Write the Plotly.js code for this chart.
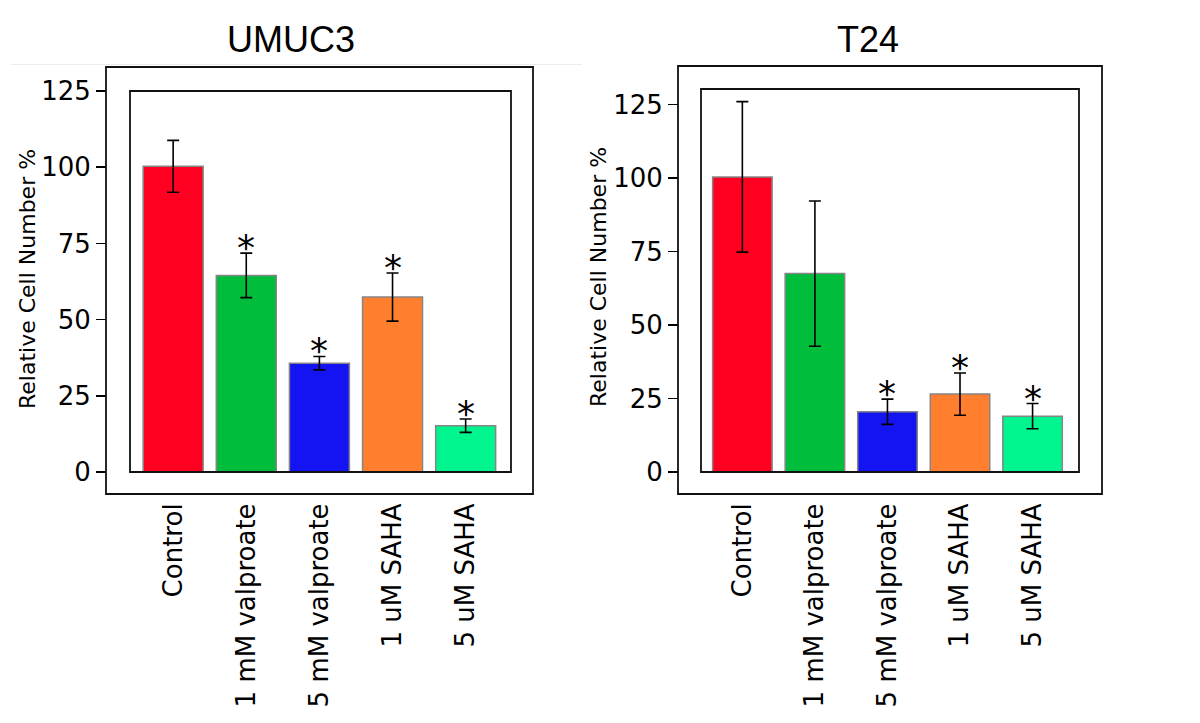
<!DOCTYPE html>
<html><head><meta charset="utf-8">
<script src="https://cdn.plot.ly/plotly-3.0.1.min.js"></script>
<style>html,body{margin:0;padding:0;background:#fff}#chart{width:1200px;height:723px}</style>
</head><body><div id="chart"></div>
<script>
// ---- data ----
const categories = ["Control", "1 mM valproate", "5 mM valproate", "1 uM SAHA", "5 uM SAHA"];
const barColors = ["#FF0020", "#00BD3C", "#1414F2", "#FF7F2E", "#00F58E"];
const umuc3Values = [100.3, 64.5, 35.7, 57.4, 15.2];
const umuc3Errors = [8.5, 7.3, 2.2, 7.9, 2.2];
const umuc3Sig = [false, true, true, true, true];
const t24Values = [100.4, 67.5, 20.5, 26.5, 19.0];
const t24Errors = [25.6, 24.7, 4.3, 7.2, 4.3];
const t24Sig = [false, false, true, true, true];
const panelTitles = ["UMUC3", "T24"];
const yTitle = "Relative Cell Number %";
const yTickVals = [0, 25, 50, 75, 100, 125];

// ---- geometry helpers ----
const W = 1200, H = 723;
const fx = x => x / W, fy = y => 1 - y / H;
const FONT = "DejaVu Sans, Verdana, sans-serif";

function barTrace(vals, errs, xa, ya) {
  return {
    type: "bar", x: categories, y: vals, xaxis: xa, yaxis: ya,
    width: 0.82,
    marker: {color: barColors, line: {color: "#858585", width: 1.5}},
    error_y: {type: "data", array: errs, visible: true, color: "#000", thickness: 1.6, width: 6},
    hoverinfo: "x+y", showlegend: false
  };
}

const data = [
  barTrace(umuc3Values, umuc3Errors, "x", "y"),
  barTrace(t24Values, t24Errors, "x2", "y2")
];

function yAxis(pos, range, dom) {
  return {
    domain: dom, range: range, anchor: "free", position: pos,
    tickvals: yTickVals, ticks: "outside", ticklen: 10, tickwidth: 1.5, tickcolor: "#000",
    showline: false, showgrid: false, zeroline: false,
    tickfont: {family: FONT, size: 26, color: "#000"}, fixedrange: true
  };
}
function xAxis(dom, range, anchor) {
  return {
    domain: dom, range: range, anchor: anchor, type: "category",
    ticks: "outside", ticklen: 20, tickcolor: "rgba(0,0,0,0)", tickangle: -90,
    showline: false, showgrid: false, zeroline: false,
    tickfont: {family: FONT, size: 26, color: "#000"}, fixedrange: true
  };
}

const annotations = [];
function addStars(vals, errs, sig, xr, yr) {
  sig.forEach((s, i) => {
    if (!s) return;
    annotations.push({
      x: categories[i], y: vals[i] + errs[i], xref: xr, yref: yr,
      text: "*", showarrow: false, yanchor: "bottom", yshift: -17,
      font: {family: FONT, size: 36, color: "#000"}
    });
  });
}
addStars(umuc3Values, umuc3Errors, umuc3Sig, "x", "y");
addStars(t24Values, t24Errors, t24Sig, "x2", "y2");

// panel titles
[[291, panelTitles[0]], [868, panelTitles[1]]].forEach(([cx, t]) => {
  annotations.push({x: fx(cx), y: fy(39), xref: "paper", yref: "paper", text: t, showarrow: false,
    xanchor: "center", yanchor: "middle", font: {family: "Liberation Sans, Arial, sans-serif", size: 36, color: "#000"}});
});
// y axis titles
[[27, 279], [598, 277]].forEach(([cx, cy]) => {
  annotations.push({x: fx(cx), y: fy(cy), xref: "paper", yref: "paper", text: yTitle, showarrow: false,
    textangle: -90, xanchor: "center", yanchor: "middle", font: {family: FONT, size: 22, color: "#000"}});
});

const shapes = [
  // faint separator under left title
  {type: "line", xref: "paper", yref: "paper", x0: fx(11), x1: fx(582), y0: fy(64.5), y1: fy(64.5), line: {color: "#ececec", width: 1}},
  // outer frames
  {type: "rect", xref: "paper", yref: "paper", x0: fx(106), x1: fx(533), y0: fy(494), y1: fy(67), line: {color: "#111", width: 1.8}},
  {type: "rect", xref: "paper", yref: "paper", x0: fx(678), x1: fx(1102), y0: fy(494), y1: fy(66), line: {color: "#111", width: 1.8}},
  // inner plot boxes
  {type: "rect", xref: "x domain", yref: "y domain", x0: 0, x1: 1, y0: 0, y1: 1, line: {color: "#111", width: 1.8}},
  {type: "rect", xref: "x2 domain", yref: "y2 domain", x0: 0, x1: 1, y0: 0, y1: 1, line: {color: "#111", width: 1.8}}
];

const layout = {
  width: W, height: H, margin: {l: 0, r: 0, t: 0, b: 0},
  paper_bgcolor: "#fff", plot_bgcolor: "#fff", showlegend: false, bargap: 0.18,
  xaxis: xAxis([fx(130), fx(511)], [-0.59, 4.62], "y"),
  yaxis: yAxis(fx(106), [0, 125], [fy(472), fy(91)]),
  xaxis2: xAxis([fx(701), fx(1079)], [-0.57, 4.64], "y2"),
  yaxis2: yAxis(fx(678), [0, 130.3], [fy(472), fy(89)]),
  annotations: annotations, shapes: shapes
};

Plotly.newPlot("chart", data, layout, {staticPlot: true, displayModeBar: false});
</script></body></html>
